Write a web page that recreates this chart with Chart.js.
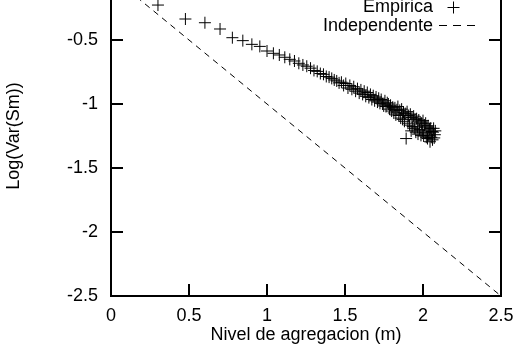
<!doctype html>
<html lang="en">
<head>
<meta charset="utf-8">
<title>Log(Var(Sm)) vs Nivel de agregacion</title>
<style>
  html, body { margin: 0; padding: 0; background: #fff; overflow: hidden; }
  #wrap { width: 517px; height: 352px; overflow: hidden; position: relative; }
  #chart { position: absolute; left: 0; top: -24px; }
</style>
</head>
<body>
<div id="wrap"><canvas id="chart" width="517" height="376"></canvas></div>

<script src="https://cdn.jsdelivr.net/npm/chart.js"></script>
<script>
// log10 of the aggregation level m = 1..120
const nivel = [
  0, 0.301, 0.477, 0.602, 0.699, 0.778, 0.845, 0.903, 0.954, 1.000,
  1.041, 1.079, 1.114, 1.146, 1.176, 1.204, 1.230, 1.255, 1.279, 1.301,
  1.322, 1.342, 1.362, 1.380, 1.398, 1.415, 1.431, 1.447, 1.462, 1.477,
  1.491, 1.505, 1.519, 1.531, 1.544, 1.556, 1.568, 1.580, 1.591, 1.602,
  1.613, 1.623, 1.633, 1.643, 1.653, 1.663, 1.672, 1.681, 1.690, 1.699,
  1.708, 1.716, 1.724, 1.732, 1.740, 1.748, 1.756, 1.763, 1.771, 1.778,
  1.785, 1.792, 1.799, 1.806, 1.813, 1.820, 1.826, 1.833, 1.839, 1.845,
  1.851, 1.857, 1.863, 1.869, 1.875, 1.881, 1.886, 1.892, 1.898, 1.903,
  1.908, 1.914, 1.919, 1.924, 1.929, 1.934, 1.940, 1.944, 1.949, 1.954,
  1.959, 1.964, 1.968, 1.973, 1.978, 1.982, 1.987, 1.991, 1.996, 2.000,
  2.004, 2.009, 2.013, 2.017, 2.021, 2.025, 2.029, 2.033, 2.037, 2.041,
  2.045, 2.049, 2.053, 2.057, 2.061, 2.064, 2.068, 2.072, 2.076, 2.079
];

const logVar = [
  0, -0.227, -0.336, -0.365, -0.414, -0.482, -0.505, -0.534, -0.550, -0.586,
  -0.604, -0.617, -0.635, -0.651, -0.664, -0.682, -0.695, -0.705, -0.720, -0.738,
  -0.745, -0.762, -0.768, -0.785, -0.790, -0.800, -0.812, -0.820, -0.835, -0.830,
  -0.855, -0.840, -0.875, -0.855, -0.885, -0.865, -0.900, -0.880, -0.915, -0.890,
  -0.925, -0.900, -0.940, -0.910, -0.950, -0.925, -0.965, -0.935, -0.975, -0.945,
  -0.985, -0.955, -0.995, -0.965, -1.000, -1.015, -0.975, -1.020, -0.990, -1.000,
  -1.040, -1.010, -1.055, -1.025, -1.070, -1.030, -1.085, -1.045, -1.020, -1.090,
  -1.050, -1.110, -1.040, -1.120, -1.065, -1.135, -1.075, -1.270, -1.060, -1.150,
  -1.090, -1.165, -1.080, -1.210, -1.105, -1.175, -1.095, -1.190, -1.120, -1.220,
  -1.115, -1.180, -1.235, -1.125, -1.200, -1.140, -1.245, -1.150, -1.210, -1.130,
  -1.250, -1.165, -1.225, -1.150, -1.260, -1.180, -1.270, -1.170, -1.245, -1.195,
  -1.295, -1.190, -1.260, -1.215, -1.280, -1.220, -1.190, -1.265, -1.240, -1.210
];

// independent case: slope -1
const indepX = [0, 2.5];
const indepY = [0, -2.5];

const xTicks = [0, 0.5, 1, 1.5, 2, 2.5];
const yTicks = [-2.5, -2, -1.5, -1, -0.5];
const seriesLabels = ['Empirica', 'Independente'];

const font = { family: '"Liberation Sans", Arial, sans-serif', size: 18 };

// gnuplot style box: right edge plus inward ticks on every side
const gnuplotFrame = {
  id: 'gnuplotFrame',
  afterDraw(chart) {
    const { ctx, chartArea: a, scales: { x, y } } = chart;
    ctx.save();
    ctx.strokeStyle = '#000';
    ctx.lineWidth = 2;
    ctx.beginPath();
    ctx.moveTo(a.right, a.top);
    ctx.lineTo(a.right, a.bottom + 1);
    ctx.moveTo(a.left, a.top);
    ctx.lineTo(a.right, a.top);
    yTicks.forEach(v => {
      const p = y.getPixelForValue(v);
      ctx.moveTo(a.left, p); ctx.lineTo(a.left + 12, p);
      ctx.moveTo(a.right, p); ctx.lineTo(a.right - 12, p);
    });
    xTicks.forEach(v => {
      const p = x.getPixelForValue(v);
      ctx.moveTo(p, a.bottom); ctx.lineTo(p, a.bottom - 12);
      ctx.moveTo(p, a.top); ctx.lineTo(p, a.top + 12);
    });
    ctx.stroke();
    ctx.restore();
  }
};

// key in the top right: text first, sample after
const sideKey = {
  id: 'sideKey',
  afterDraw(chart) {
    const { ctx } = chart;
    const sets = chart.data.datasets;
    const textRight = 433, sampleLeft = 439, sampleRight = 477;
    ctx.save();
    ctx.font = '18px "Liberation Sans", Arial, sans-serif';
    ctx.fillStyle = '#000';
    ctx.textAlign = 'right';
    ctx.textBaseline = 'alphabetic';
    ctx.fillText(sets[0].label, textRight, 36);
    ctx.fillText(sets[1].label, textRight, 55);

    ctx.strokeStyle = '#000';
    ctx.lineWidth = 1;
    const cx = 453.5, cy = 31.5;
    ctx.beginPath();
    ctx.moveTo(cx - 6, cy); ctx.lineTo(cx + 6, cy);
    ctx.moveTo(cx, cy - 6); ctx.lineTo(cx, cy + 6);
    ctx.stroke();

    ctx.setLineDash([8, 6]);
    ctx.beginPath();
    ctx.moveTo(sampleLeft, 49.5);
    ctx.lineTo(sampleRight, 49.5);
    ctx.stroke();
    ctx.restore();
  }
};

const noPad = s => { s.paddingTop = 0; s.paddingBottom = 0; s.paddingLeft = 0; s.paddingRight = 0; };
const plain = v => String(v);

new Chart(document.getElementById('chart'), {
  type: 'scatter',
  data: {
    datasets: [
      {
        label: seriesLabels[0],
        data: nivel.map((x, i) => ({ x, y: logVar[i] })),
        showLine: false,
        pointStyle: 'cross',
        pointRadius: 6,
        borderColor: '#000',
        backgroundColor: '#000',
        borderWidth: 1
      },
      {
        label: seriesLabels[1],
        data: indepX.map((x, i) => ({ x, y: indepY[i] })),
        showLine: true,
        pointRadius: 0,
        borderColor: '#000',
        borderWidth: 1,
        borderDash: [6, 5]
      }
    ]
  },
  options: {
    responsive: false,
    animation: false,
    layout: { padding: { left: 0, right: 16, top: 0, bottom: 0 }, autoPadding: false },
    plugins: { legend: { display: false }, tooltip: { enabled: false } },
    scales: {
      x: {
        type: 'linear',
        min: 0,
        max: 2.5,
        afterBuildTicks: s => { s.ticks = xTicks.map(v => ({ value: v })); },
        afterFit: s => { s.height = 56; noPad(s); },
        grid: { display: false, drawTicks: false },
        border: { display: true, color: '#000', width: 2 },
        ticks: { color: '#000', font, padding: 9, maxRotation: 0, callback: plain },
        title: { display: true, text: 'Nivel de agregacion (m)', color: '#000', font, padding: { top: 0, bottom: 6 } }
      },
      y: {
        type: 'linear',
        min: -2.5,
        max: 0,
        afterBuildTicks: s => { s.ticks = yTicks.map(v => ({ value: v })); },
        afterFit: s => { s.width = 111; noPad(s); },
        grid: { display: false, drawTicks: false },
        border: { display: true, color: '#000', width: 2 },
        ticks: { color: '#000', font, padding: 13, callback: plain },
        title: { display: true, text: 'Log(Var(Sm))', color: '#000', font, padding: { top: 3, bottom: 0 } }
      }
    }
  },
  plugins: [gnuplotFrame, sideKey]
});
</script>
</body>
</html>
